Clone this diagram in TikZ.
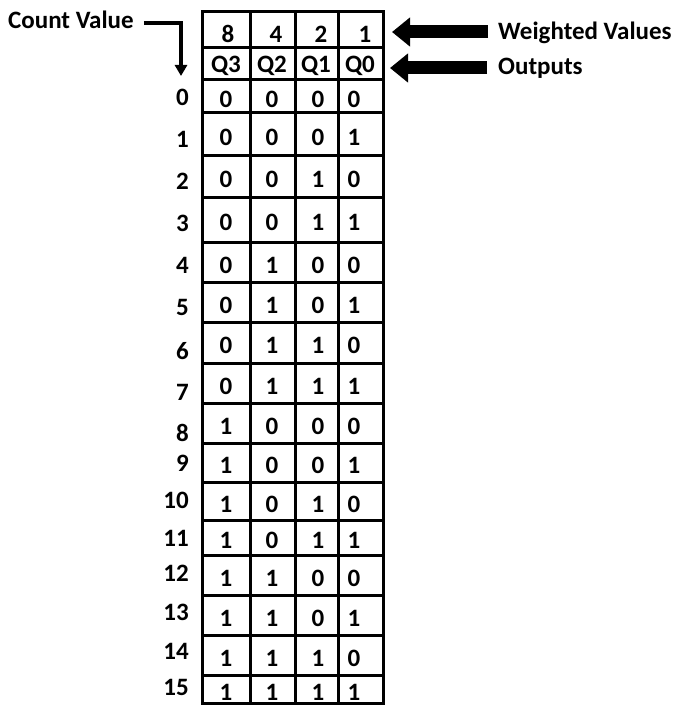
\documentclass[tikz,border=0pt]{standalone}
\usepackage{fontspec}
\setmainfont{Carlito}
\usetikzlibrary{arrows.meta}
\begin{document}
\begin{tikzpicture}[x=1pt,y=-1pt,
  txt/.style={font=\fontsize{25}{29}\selectfont\bfseries,inner sep=0pt},
  grid/.style={line width=3pt,line cap=rect},
  bigarrow/.style={line width=13pt,-{Triangle[length={18pt 0},width={28pt 0}]}},
  thinarrow/.style={line width=3.2pt,-{Triangle[length={11pt 0},width={12pt 0}]}}]
\useasboundingbox (0,0) rectangle (678,706);
% table lines
\def\rowys{12,48,80,113,155,197,242,282,322,363,403,443,482,520,555,595,635,675,703}
\foreach \y in \rowys {\draw[grid] (202,\y) -- (383,\y);}
\foreach \x in {202,250,295,338,383} {\draw[grid] (\x,12) -- (\x,703);}
% headers
\node[txt] (w8) at (228,34) {8};
\node[txt] (w4) at (276,34) {4};
\node[txt] (w2) at (321,34) {2};
\node[txt] (w1) at (365,34) {1};
\node[txt] (q3) at (226,66) {Q3};
\node[txt] (q2) at (272,66) {Q2};
\node[txt] (q1) at (316,66) {Q1};
\node[txt] (q0) at (360,66) {Q0};
% rows
\foreach \n/\top/\bot/\ly in {0/80/113/97,1/113/155/139,2/155/197/181,3/197/242/223,4/242/282/265,5/282/322/307,6/322/363/351,7/363/403/392,8/403/443/433,9/443/482/463,10/482/520/500,11/520/555/538,12/555/595/573,13/595/635/612,14/635/675/651,15/675/703/687} {
  \pgfmathsetmacro{\cy}{(\top+\bot)/2+3}
  \pgfmathtruncatemacro{\bA}{mod(floor(\n/8),2)}
  \pgfmathtruncatemacro{\bB}{mod(floor(\n/4),2)}
  \pgfmathtruncatemacro{\bC}{mod(floor(\n/2),2)}
  \pgfmathtruncatemacro{\bD}{mod(\n,2)}
  \node[txt,anchor=east] (lab\n) at (189,\ly) {\n};
  \node[txt] (c\n a) at (226,\cy) {\bA};
  \node[txt] (c\n b) at (272,\cy) {\bB};
  \node[txt] (c\n c) at (318,\cy) {\bC};
  \node[txt] (c\n d) at (354,\cy) {\bD};
}
% labels and arrows
\node[txt,anchor=west] (cv) at (8,20) {Count Value};
\coordinate (cvtip) at (181,76);
\coordinate (cvbend) at (181,23);
\draw[thinarrow] (cv.east |- cvbend) ++(10,0) -- (cvbend) -- (cvtip);
\node[txt,anchor=west] (wv) at (498,33) {Weighted Values};
\node[txt,anchor=west] (out) at (498,68) {Outputs};
\coordinate (wtip) at (392,32);
\coordinate (otip) at (390,68);
\draw[bigarrow] ([xshift=-10pt]wv.west |- wtip) -- (wtip);
\draw[bigarrow] ([xshift=-11pt]out.west |- otip) -- (otip);
\end{tikzpicture}
\end{document}
